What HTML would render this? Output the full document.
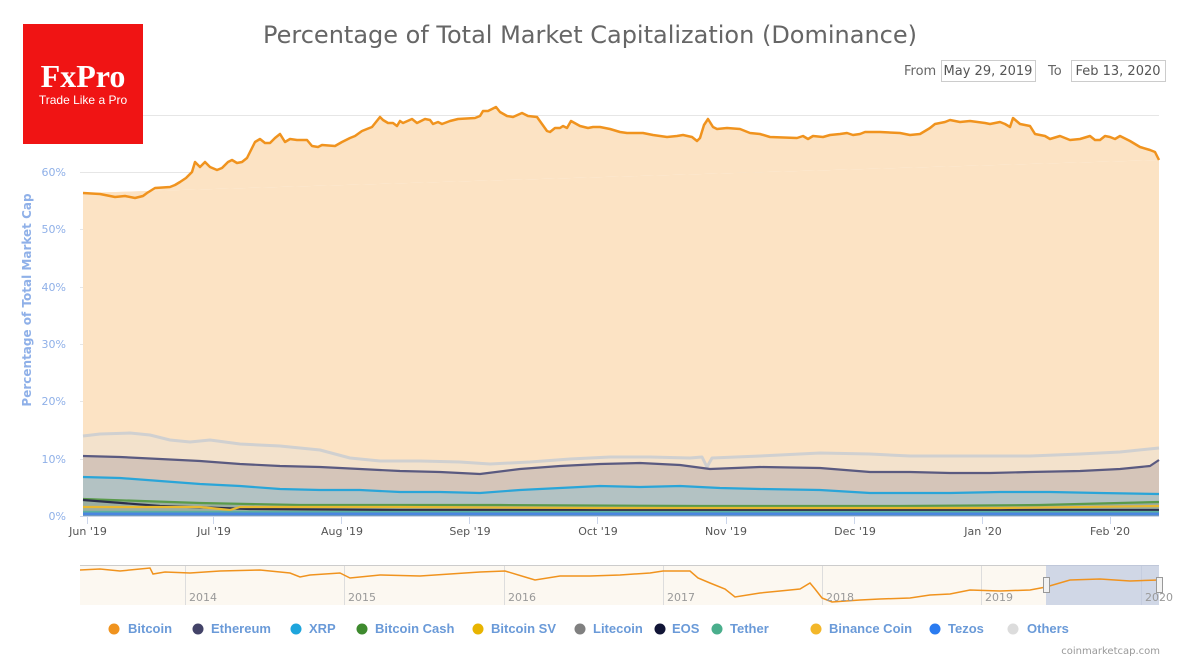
<!DOCTYPE html>
<html><head><meta charset="utf-8"><style>
body{margin:0;background:#fff;width:1195px;height:660px;overflow:hidden;font-family:"Liberation Sans","DejaVu Sans",sans-serif}
</style></head><body>
<svg width="1195" height="660" xmlns="http://www.w3.org/2000/svg" font-family="Liberation Sans, DejaVu Sans, sans-serif">
<defs>
<polyline id="btc" points="83,193 100,194 115,197 125,196 135,198 143,196 147,193 155,188 170,187 175,185 180,182 186,178 192,172 195,162 200,167 205,162 210,167 217,170 222,168 228,162 232,160 237,163 242,162 247,158 255,142 260,139 265,143 270,143 275,138 280,134 285,142 290,139 297,140 307,140 312,146 318,147 322,145 335,146 342,142 350,138 355,136 362,131 372,127 380,117 383,120 388,123 393,123 397,126 400,121 403,123 412,119 417,123 425,119 430,120 433,124 438,122 442,124 450,121 458,119 475,118 480,116 483,111 488,111 496,107 500,112 507,116 513,117 522,113 528,116 537,117 547,131 550,132 555,128 560,128 563,126 567,128 571,121 580,126 588,128 593,127 600,127 610,129 620,132 627,133 643,133 653,135 667,137 677,136 683,135 692,137 697,141 700,138 704,125 708,119 713,127 717,129 727,128 740,129 750,133 760,134 770,137 797,138 803,136 808,139 813,136 823,137 830,135 840,134 847,133 853,135 860,134 865,132 880,132 900,133 910,135 920,134 930,128 935,124 945,122 950,120 960,122 970,121 985,123 990,124 1000,122 1005,124 1010,127 1013,118 1020,124 1030,126 1035,134 1045,136 1050,139 1060,136 1065,138 1070,140 1080,139 1090,136 1095,140 1100,140 1105,136 1110,137 1115,139 1120,136 1130,141 1140,147 1150,150 1155,152 1159,160"/>
</defs>
<rect width="1195" height="660" fill="#fff"/>
<g stroke="#e6e6e6" stroke-width="1">
<line x1="80" x2="1159" y1="115.5" y2="115.5"/><line x1="80" x2="1159" y1="172.5" y2="172.5"/><line x1="80" x2="1159" y1="229.5" y2="229.5"/><line x1="80" x2="1159" y1="287.5" y2="287.5"/><line x1="80" x2="1159" y1="344.5" y2="344.5"/><line x1="80" x2="1159" y1="401.5" y2="401.5"/><line x1="80" x2="1159" y1="459.5" y2="459.5"/>
</g>
<rect x="23" y="24" width="120" height="120" fill="#f01414"/>
<text x="83" y="87" text-anchor="middle" fill="#fff" font-family="Liberation Serif, serif" font-size="32" font-weight="bold">FxPro</text>
<text x="83" y="104" text-anchor="middle" fill="#fff" font-size="12">Trade Like a Pro</text>
<text x="590" y="43" text-anchor="middle" fill="#666" font-size="24" font-family="DejaVu Sans, sans-serif">Percentage of Total Market Capitalization (Dominance)</text>
<text x="904" y="75" fill="#666" font-size="13" font-family="DejaVu Sans, sans-serif">From</text>
<rect x="941.5" y="60.5" width="94" height="21" fill="#fff" stroke="#ccc"/>
<text x="988" y="75" text-anchor="middle" fill="#555" font-size="13" font-family="DejaVu Sans, sans-serif">May 29, 2019</text>
<text x="1048" y="75" fill="#666" font-size="13" font-family="DejaVu Sans, sans-serif">To</text>
<rect x="1071.5" y="60.5" width="94" height="21" fill="#fff" stroke="#ccc"/>
<text x="1118" y="75" text-anchor="middle" fill="#555" font-size="13" font-family="DejaVu Sans, sans-serif">Feb 13, 2020</text>
<g fill="#8fb0e8" font-size="11" text-anchor="end" font-family="DejaVu Sans, sans-serif">
<text x="66" y="176">60%</text><text x="66" y="233">50%</text><text x="66" y="291">40%</text><text x="66" y="348">30%</text><text x="66" y="405">20%</text><text x="66" y="463">10%</text><text x="66" y="520">0%</text>
</g>
<text transform="translate(31,300) rotate(-90)" text-anchor="middle" fill="#8fb0e8" font-size="12" font-weight="bold" font-family="DejaVu Sans, sans-serif">Percentage of Total Market Cap</text>
<use href="#btc" fill="#fce3c4" stroke="none"/>
<polygon fill="#fce3c4" points="83,193 1159,160 1159,516 83,516"/>
<polygon fill="#f3e2cc" points="83,436 100,434 130,433 150,435 170,440 190,442 210,440 240,444 280,446 320,450 350,458 380,461 420,461 460,462 490,464 530,462 570,459 610,457 650,457 690,458 702,457 707,467 712,458 760,456 820,453 870,454 910,456 950,456 990,456 1030,456 1080,454 1120,452 1159,448 1159,516 83,516"/>
<polygon fill="#d5c5b9" points="83,456 120,457 160,459 200,461 240,464 280,466 320,467 360,469 400,471 440,472 480,474 520,469 560,466 600,464 640,463 680,465 710,469 760,467 820,468 870,472 910,472 950,473 990,473 1030,472 1080,471 1120,469 1150,466 1159,460 1159,516 83,516"/>
<polygon fill="#b3c2c3" points="83,477 120,478 160,481 200,484 240,486 280,489 320,490 360,490 400,492 440,492 480,493 520,490 560,488 600,486 640,487 680,486 720,488 760,489 820,490 870,493 910,493 950,493 1000,492 1050,492 1100,493 1159,494 1159,516 83,516"/>
<polygon fill="#9aaea0" points="83,499 200,503 300,505 500,505 700,506 900,506 1040,505 1159,502 1159,516 83,516"/>
<g fill="none" stroke-width="2.2" stroke-linejoin="round">
<polyline stroke="#d0d0d0" stroke-width="3" points="83,436 100,434 130,433 150,435 170,440 190,442 210,440 240,444 280,446 320,450 350,458 380,461 420,461 460,462 490,464 530,462 570,459 610,457 650,457 690,458 702,457 707,467 712,458 760,456 820,453 870,454 910,456 950,456 990,456 1030,456 1080,454 1120,452 1159,448"/>
<polyline stroke="#5a5a80" points="83,456 120,457 160,459 200,461 240,464 280,466 320,467 360,469 400,471 440,472 480,474 520,469 560,466 600,464 640,463 680,465 710,469 760,467 820,468 870,472 910,472 950,473 990,473 1030,472 1080,471 1120,469 1150,466 1159,460"/>
<polyline stroke="#2aa5d8" points="83,477 120,478 160,481 200,484 240,486 280,489 320,490 360,490 400,492 440,492 480,493 520,490 560,488 600,486 640,487 680,486 720,488 760,489 820,490 870,493 910,493 950,493 1000,492 1050,492 1100,493 1159,494"/>
<polyline stroke="#5a9a4a" points="83,499 200,503 300,505 500,505 700,506 900,506 1040,505 1159,502"/>
<polyline stroke="#2c2f4a" points="83,500 160,506 250,509 400,510 600,510 800,510 1000,510 1159,510"/>
<polyline stroke="#e8b830" points="83,507 200,507 230,510 240,507 400,507 600,508 800,508 1000,508 1159,506"/>
<polyline stroke="#5bb0a0" points="83,512 1159,512"/>
<polyline stroke="#4a86e0" stroke-width="3" points="83,514 1159,514"/>
<use href="#btc" stroke="#f0931e" stroke-width="2.5"/>
</g>
<line x1="80" x2="1159" y1="516.5" y2="516.5" stroke="#ccd6eb"/>
<g stroke="#ccd6eb"><line x1="87.5" x2="87.5" y1="517" y2="524"/><line x1="213.5" x2="213.5" y1="517" y2="524"/><line x1="341.5" x2="341.5" y1="517" y2="524"/><line x1="469.5" x2="469.5" y1="517" y2="524"/><line x1="597.5" x2="597.5" y1="517" y2="524"/><line x1="726.5" x2="726.5" y1="517" y2="524"/><line x1="854.5" x2="854.5" y1="517" y2="524"/><line x1="982.5" x2="982.5" y1="517" y2="524"/><line x1="1110.5" x2="1110.5" y1="517" y2="524"/></g>
<g fill="#555" font-size="11" text-anchor="middle" font-family="DejaVu Sans, sans-serif">
<text x="88" y="535">Jun '19</text><text x="214" y="535">Jul '19</text><text x="342" y="535">Aug '19</text><text x="470" y="535">Sep '19</text><text x="598" y="535">Oct '19</text><text x="726" y="535">Nov '19</text><text x="855" y="535">Dec '19</text><text x="983" y="535">Jan '20</text><text x="1110" y="535">Feb '20</text>
</g>
<rect x="80" y="565" width="1079" height="40" fill="#fcf8f1"/>
<line x1="80" x2="1159" y1="565.5" y2="565.5" stroke="#ccc"/>
<g stroke="#ddd"><line x1="185.5" x2="185.5" y1="566" y2="605"/><line x1="344.5" x2="344.5" y1="566" y2="605"/><line x1="504.5" x2="504.5" y1="566" y2="605"/><line x1="663.5" x2="663.5" y1="566" y2="605"/><line x1="822.5" x2="822.5" y1="566" y2="605"/><line x1="981.5" x2="981.5" y1="566" y2="605"/><line x1="1141.5" x2="1141.5" y1="566" y2="605"/></g>
<rect x="1046" y="565" width="113" height="40" fill="#b8c4e0" opacity="0.65"/>
<polyline fill="none" stroke="#f0931e" stroke-width="1.5" points="80,570 100,569 120,571 140,569 150,568 153,574 165,572 190,573 220,571 260,570 290,573 300,577 310,575 340,573 350,578 380,575 420,576 450,574 480,572 505,571 525,577 535,580 560,576 590,576 620,575 650,573 663,571 690,571 698,578 710,583 725,589 735,597 760,593 780,591 800,589 810,583 815,589 822,598 832,602 860,600 880,599 910,598 930,595 950,594 970,590 1000,591 1030,590 1046,587 1070,580 1100,579 1130,581 1159,580"/>
<rect x="1043.5" y="577.5" width="6" height="15" fill="#f2f2f2" stroke="#999"/>
<rect x="1156.5" y="577.5" width="6" height="15" fill="#f2f2f2" stroke="#999"/>
<g fill="#999" font-size="11" font-family="DejaVu Sans, sans-serif">
<text x="189" y="601">2014</text><text x="348" y="601">2015</text><text x="508" y="601">2016</text><text x="667" y="601">2017</text><text x="826" y="601">2018</text><text x="985" y="601">2019</text><text x="1145" y="601">2020</text>
</g>
<g font-size="13" font-weight="bold" fill="#6a9ad8" font-family="Liberation Sans, sans-serif">
<circle cx="114" cy="629" r="5.5" fill="#f0931e"/><text x="128" y="633">Bitcoin</text>
<circle cx="198" cy="629" r="5.5" fill="#434368"/><text x="211" y="633">Ethereum</text>
<circle cx="296" cy="629" r="5.5" fill="#1ea5dc"/><text x="309" y="633">XRP</text>
<circle cx="362" cy="629" r="5.5" fill="#3e8a2e"/><text x="375" y="633">Bitcoin Cash</text>
<circle cx="478" cy="629" r="5.5" fill="#e8b400"/><text x="491" y="633">Bitcoin SV</text>
<circle cx="580" cy="629" r="5.5" fill="#808080"/><text x="593" y="633">Litecoin</text>
<circle cx="660" cy="629" r="5.5" fill="#111536"/><text x="672" y="633">EOS</text>
<circle cx="717" cy="629" r="5.5" fill="#4aae8c"/><text x="730" y="633">Tether</text>
<circle cx="816" cy="629" r="5.5" fill="#f3b72a"/><text x="829" y="633">Binance Coin</text>
<circle cx="935" cy="629" r="5.5" fill="#2a7bf0"/><text x="948" y="633">Tezos</text>
<circle cx="1013" cy="629" r="5.5" fill="#dcdcdc"/><text x="1027" y="633">Others</text>
</g>
<text x="1160" y="654" text-anchor="end" fill="#999" font-size="10" font-family="DejaVu Sans, sans-serif">coinmarketcap.com</text>
</svg>
</body></html>
